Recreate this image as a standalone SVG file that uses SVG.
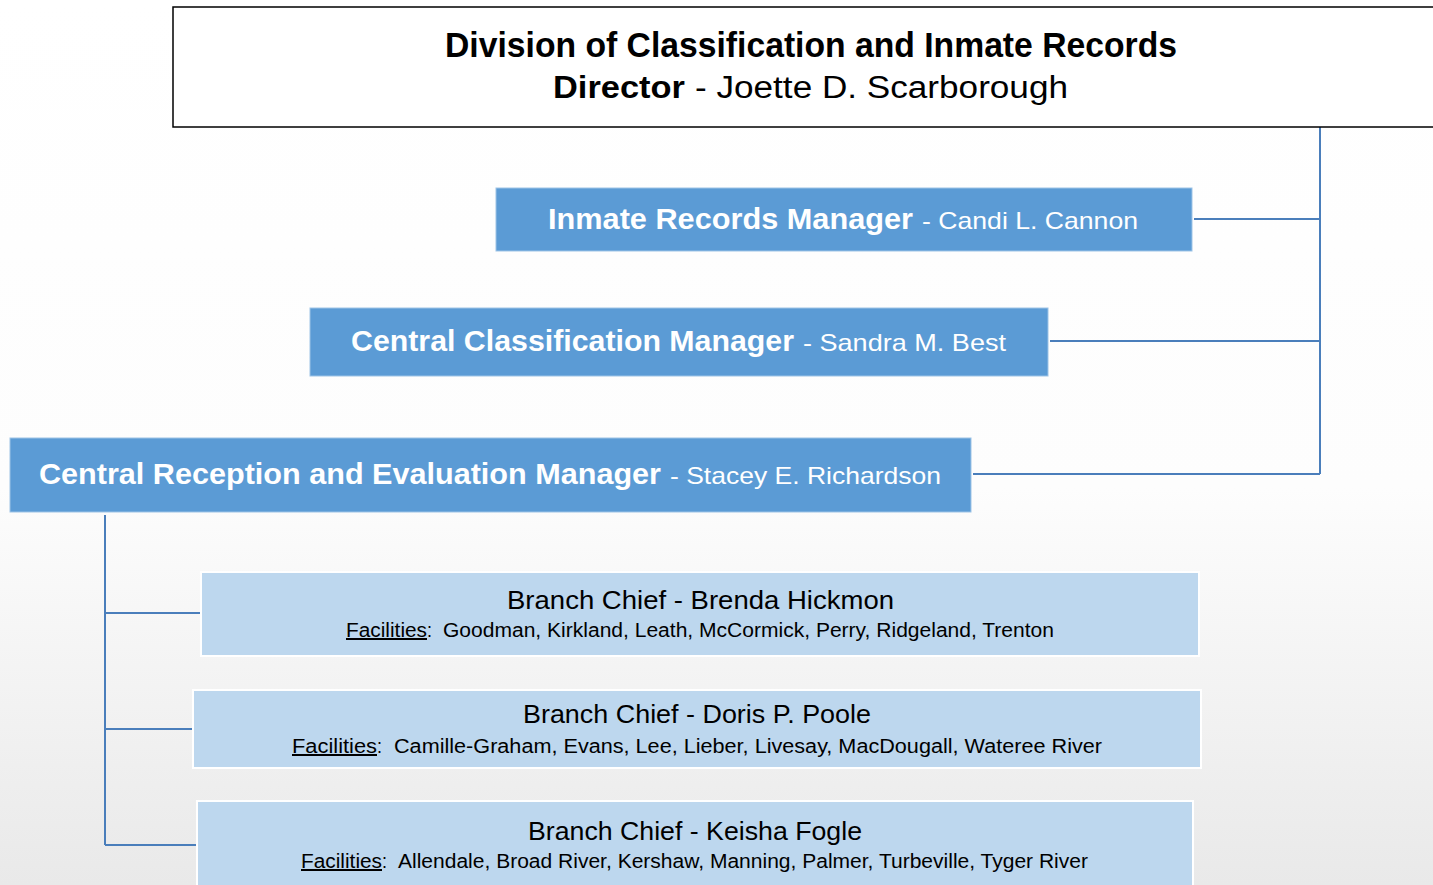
<svg xmlns="http://www.w3.org/2000/svg" width="1433" height="885" viewBox="0 0 1433 885">
<defs>
<linearGradient id="bg" x1="0" y1="0" x2="0" y2="1">
<stop offset="0" stop-color="#ffffff"/>
<stop offset="0.55" stop-color="#fdfdfd"/>
<stop offset="1" stop-color="#e9e9e9"/>
</linearGradient>
</defs>
<style>
.f{font-family:"Liberation Sans","Noto Sans",sans-serif;}
.b{font-weight:bold;}
.w{fill:#ffffff;}
.k{fill:#000000;}
.mid{fill:#5b9bd5;stroke:#9dc3e6;stroke-width:1;}
.lt{fill:#bdd7ee;stroke:#ffffff;stroke-width:2;}
.con{fill:none;stroke:#4a7ebb;stroke-width:2;}
</style>
<rect x="0" y="0" width="1433" height="885" fill="url(#bg)"/>
<g id="connectors">
<polyline class="con" points="1320,127 1320,474"/>
<line class="con" x1="1194" y1="219" x2="1320" y2="219"/>
<line class="con" x1="1050" y1="341" x2="1320" y2="341"/>
<line class="con" x1="973" y1="474" x2="1320" y2="474"/>
<line class="con" x1="105" y1="515" x2="105" y2="845"/>
<line class="con" x1="105" y1="613" x2="200" y2="613"/>
<line class="con" x1="105" y1="729" x2="193" y2="729"/>
<line class="con" x1="105" y1="845" x2="197" y2="845"/>
</g>
<g id="director">
<rect x="173" y="7" width="1275" height="120" fill="#ffffff" stroke="#000000" stroke-width="1.5"/>
<text class="f b k" x="445" y="57" font-size="35" textLength="732" lengthAdjust="spacingAndGlyphs">Division of Classification and Inmate Records</text>
<text class="f b k" x="553" y="98" font-size="31" textLength="132" lengthAdjust="spacingAndGlyphs">Director</text>
<text class="f k" x="695" y="98" font-size="31" textLength="373" lengthAdjust="spacingAndGlyphs">- Joette D. Scarborough</text>
</g>
<g id="inmate-records">
<rect class="mid" x="496" y="188" width="696" height="63"/>
<text class="f b w" x="548" y="229" font-size="29" textLength="365" lengthAdjust="spacingAndGlyphs">Inmate Records Manager</text>
<text class="f w" x="922" y="229" font-size="24" textLength="216" lengthAdjust="spacingAndGlyphs">- Candi L. Cannon</text>
</g>
<g id="central-classification">
<rect class="mid" x="310" y="308" width="738" height="68"/>
<text class="f b w" x="351" y="351" font-size="29" textLength="443" lengthAdjust="spacingAndGlyphs">Central Classification Manager</text>
<text class="f w" x="803" y="351" font-size="24" textLength="203" lengthAdjust="spacingAndGlyphs">- Sandra M. Best</text>
</g>
<g id="central-reception">
<rect class="mid" x="10" y="438" width="961" height="74"/>
<text class="f b w" x="39" y="484" font-size="29.5" textLength="622" lengthAdjust="spacingAndGlyphs">Central Reception and Evaluation Manager</text>
<text class="f w" x="670" y="484" font-size="24" textLength="271" lengthAdjust="spacingAndGlyphs">- Stacey E. Richardson</text>
</g>
<g id="branch-hickmon">
<rect class="lt" x="201" y="572" width="998" height="84"/>
<text class="f k" x="507" y="609" font-size="25.5" textLength="387" lengthAdjust="spacingAndGlyphs">Branch Chief - Brenda Hickmon</text>
<text class="f k" x="346" y="637" font-size="20" textLength="81" lengthAdjust="spacingAndGlyphs" text-decoration="underline">Facilities</text>
<text class="f k" x="427" y="637" font-size="20" textLength="5" lengthAdjust="spacingAndGlyphs">:</text>
<text class="f k" x="443" y="637" font-size="20" textLength="611" lengthAdjust="spacingAndGlyphs">Goodman, Kirkland, Leath, McCormick, Perry, Ridgeland, Trenton</text>
</g>
<g id="branch-poole">
<rect class="lt" x="193" y="690" width="1008" height="78"/>
<text class="f k" x="523" y="723" font-size="25.5" textLength="348" lengthAdjust="spacingAndGlyphs">Branch Chief - Doris P. Poole</text>
<text class="f k" x="292" y="753" font-size="20" textLength="85" lengthAdjust="spacingAndGlyphs" text-decoration="underline">Facilities</text>
<text class="f k" x="377" y="753" font-size="20" textLength="5" lengthAdjust="spacingAndGlyphs">:</text>
<text class="f k" x="394" y="753" font-size="20" textLength="708" lengthAdjust="spacingAndGlyphs">Camille-Graham, Evans, Lee, Lieber, Livesay, MacDougall, Wateree River</text>
</g>
<g id="branch-fogle">
<rect class="lt" x="197" y="801" width="996" height="95"/>
<text class="f k" x="528" y="840" font-size="25.5" textLength="334" lengthAdjust="spacingAndGlyphs">Branch Chief - Keisha Fogle</text>
<text class="f k" x="301" y="868" font-size="20" textLength="81" lengthAdjust="spacingAndGlyphs" text-decoration="underline">Facilities</text>
<text class="f k" x="382" y="868" font-size="20" textLength="5" lengthAdjust="spacingAndGlyphs">:</text>
<text class="f k" x="398" y="868" font-size="20" textLength="690" lengthAdjust="spacingAndGlyphs">Allendale, Broad River, Kershaw, Manning, Palmer, Turbeville, Tyger River</text>
</g>
</svg>
